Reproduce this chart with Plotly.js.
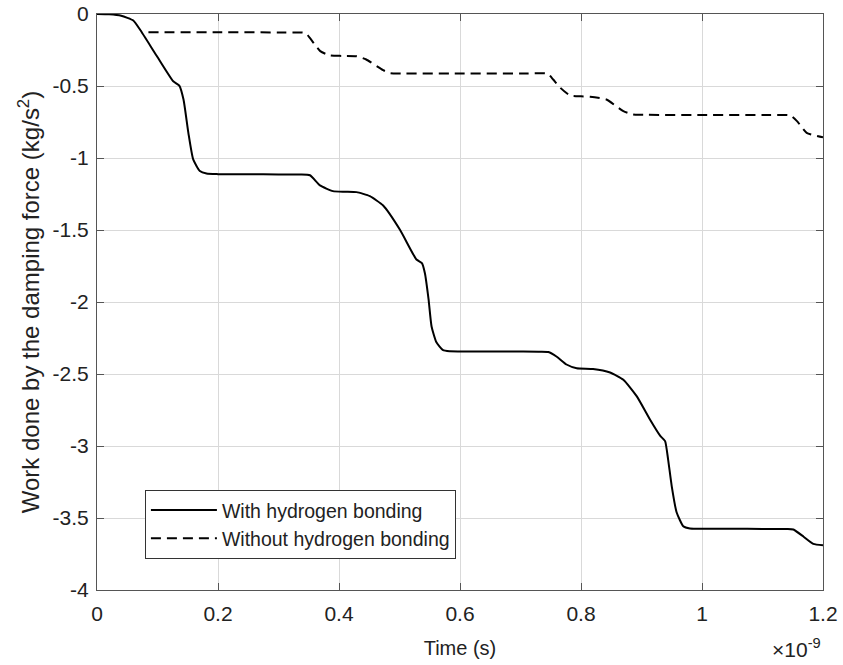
<!DOCTYPE html>
<html>
<head>
<meta charset="utf-8">
<script src="https://cdn.plot.ly/plotly-3.0.1.min.js"></script>
<style>html,body{margin:0;padding:0;background:#fff;}#chart{width:843px;height:665px;}</style>
</head>
<body>
<div id="chart"></div>
<script>
// Time in units of 1e-9 s
const tWith = [0, 0.02, 0.04, 0.06, 0.071, 0.0986, 0.126, 0.136, 0.143, 0.151, 0.159, 0.17, 0.181, 0.2, 0.25, 0.3, 0.3355, 0.352, 0.3686, 0.39, 0.41, 0.429, 0.451, 0.473, 0.501, 0.528, 0.537, 0.542, 0.548, 0.553, 0.561, 0.572, 0.583, 0.6, 0.68, 0.73, 0.746, 0.76, 0.776, 0.793, 0.82, 0.848, 0.87, 0.892, 0.914, 0.931, 0.939, 0.944, 0.95, 0.958, 0.969, 0.98, 1.0, 1.05, 1.1, 1.14, 1.151, 1.168, 1.184, 1.2];
const wWith = [0, -0.002, -0.012, -0.045, -0.108, -0.29, -0.467, -0.497, -0.594, -0.825, -1.01, -1.09, -1.108, -1.112, -1.113, -1.114, -1.115, -1.12, -1.19, -1.23, -1.234, -1.237, -1.265, -1.33, -1.50, -1.705, -1.73, -1.80, -1.98, -2.17, -2.28, -2.335, -2.342, -2.343, -2.344, -2.345, -2.347, -2.38, -2.434, -2.46, -2.465, -2.49, -2.54, -2.654, -2.816, -2.93, -2.966, -3.094, -3.28, -3.46, -3.557, -3.573, -3.574, -3.575, -3.576, -3.577, -3.58, -3.63, -3.68, -3.69];

const tWithout = [0.085, 0.2, 0.3, 0.341, 0.347, 0.369, 0.385, 0.405, 0.429, 0.445, 0.473, 0.484, 0.5, 0.6, 0.7, 0.745, 0.754, 0.766, 0.782, 0.8, 0.815, 0.842, 0.87, 0.886, 0.9, 1.0, 1.1, 1.146, 1.157, 1.173, 1.2];
const wWithout = [-0.126, -0.127, -0.128, -0.13, -0.142, -0.258, -0.288, -0.291, -0.293, -0.316, -0.39, -0.41, -0.413, -0.413, -0.414, -0.415, -0.455, -0.513, -0.566, -0.572, -0.575, -0.594, -0.675, -0.698, -0.700, -0.701, -0.702, -0.705, -0.744, -0.825, -0.856];

const xTicks = [0, 0.2, 0.4, 0.6, 0.8, 1, 1.2];
const xTickText = ['0', '0.2', '0.4', '0.6', '0.8', '1', '1.2'];
const yTicks = [0, -0.5, -1, -1.5, -2, -2.5, -3, -3.5, -4];
const yTickText = ['0', '-0.5', '-1', '-1.5', '-2', '-2.5', '-3', '-3.5', '-4'];

const FONT = 'Liberation Sans, Arial, Helvetica, sans-serif';

const traces = [
  {x: tWith, y: wWith, mode: 'lines', name: 'With hydrogen bonding',
   line: {color: '#000', width: 2, shape: 'spline', smoothing: 0.5}},
  {x: tWithout, y: wWithout, mode: 'lines', name: 'Without hydrogen bonding',
   line: {color: '#000', width: 2, dash: '10px,6px', shape: 'spline', smoothing: 0.5}}
];

const axisCommon = {
  showline: true, linecolor: '#555', linewidth: 1, mirror: 'ticks',
  ticks: 'inside', ticklen: 7, tickcolor: '#555',
  showgrid: true, gridcolor: '#d9d9d9', gridwidth: 1, zeroline: false,
  tickfont: {family: FONT, size: 21, color: '#222'}
};

const layout = {
  width: 843, height: 665,
  margin: {l: 97, r: 20, t: 14, b: 75},
  paper_bgcolor: '#fff', plot_bgcolor: '#fff',
  showlegend: true,
  font: {family: FONT, color: '#222'},
  xaxis: Object.assign({}, axisCommon, {
    range: [0, 1.2], tickvals: xTicks, ticktext: xTickText, ticklabelstandoff: 5,
    title: {text: 'Time (s)', font: {family: FONT, size: 20, color: '#222'}, standoff: 16}
  }),
  yaxis: Object.assign({}, axisCommon, {
    range: [-4, 0], tickvals: yTicks, ticktext: yTickText, ticklabelstandoff: 3,
    title: {text: 'Work done by the damping force (kg/s<sup>2</sup>)', font: {family: FONT, size: 24, color: '#222'}, standoff: 6}
  }),
  legend: {
    x: 0.066, y: 0.174, xanchor: 'left', yanchor: 'top',
    bgcolor: '#fff', bordercolor: '#333', borderwidth: 1, itemwidth: 66,
    font: {family: FONT, size: 19.5, color: '#222'}, tracegroupgap: 0
  },
  annotations: [{
    text: '×10<sup>-9</sup>', xref: 'paper', yref: 'paper', x: 1.0, y: -0.1,
    xanchor: 'right', yanchor: 'middle', showarrow: false,
    font: {family: FONT, size: 21, color: '#222'}
  }]
};

Plotly.newPlot('chart', traces, layout, {displayModeBar: false, staticPlot: true});
</script>
</body>
</html>
